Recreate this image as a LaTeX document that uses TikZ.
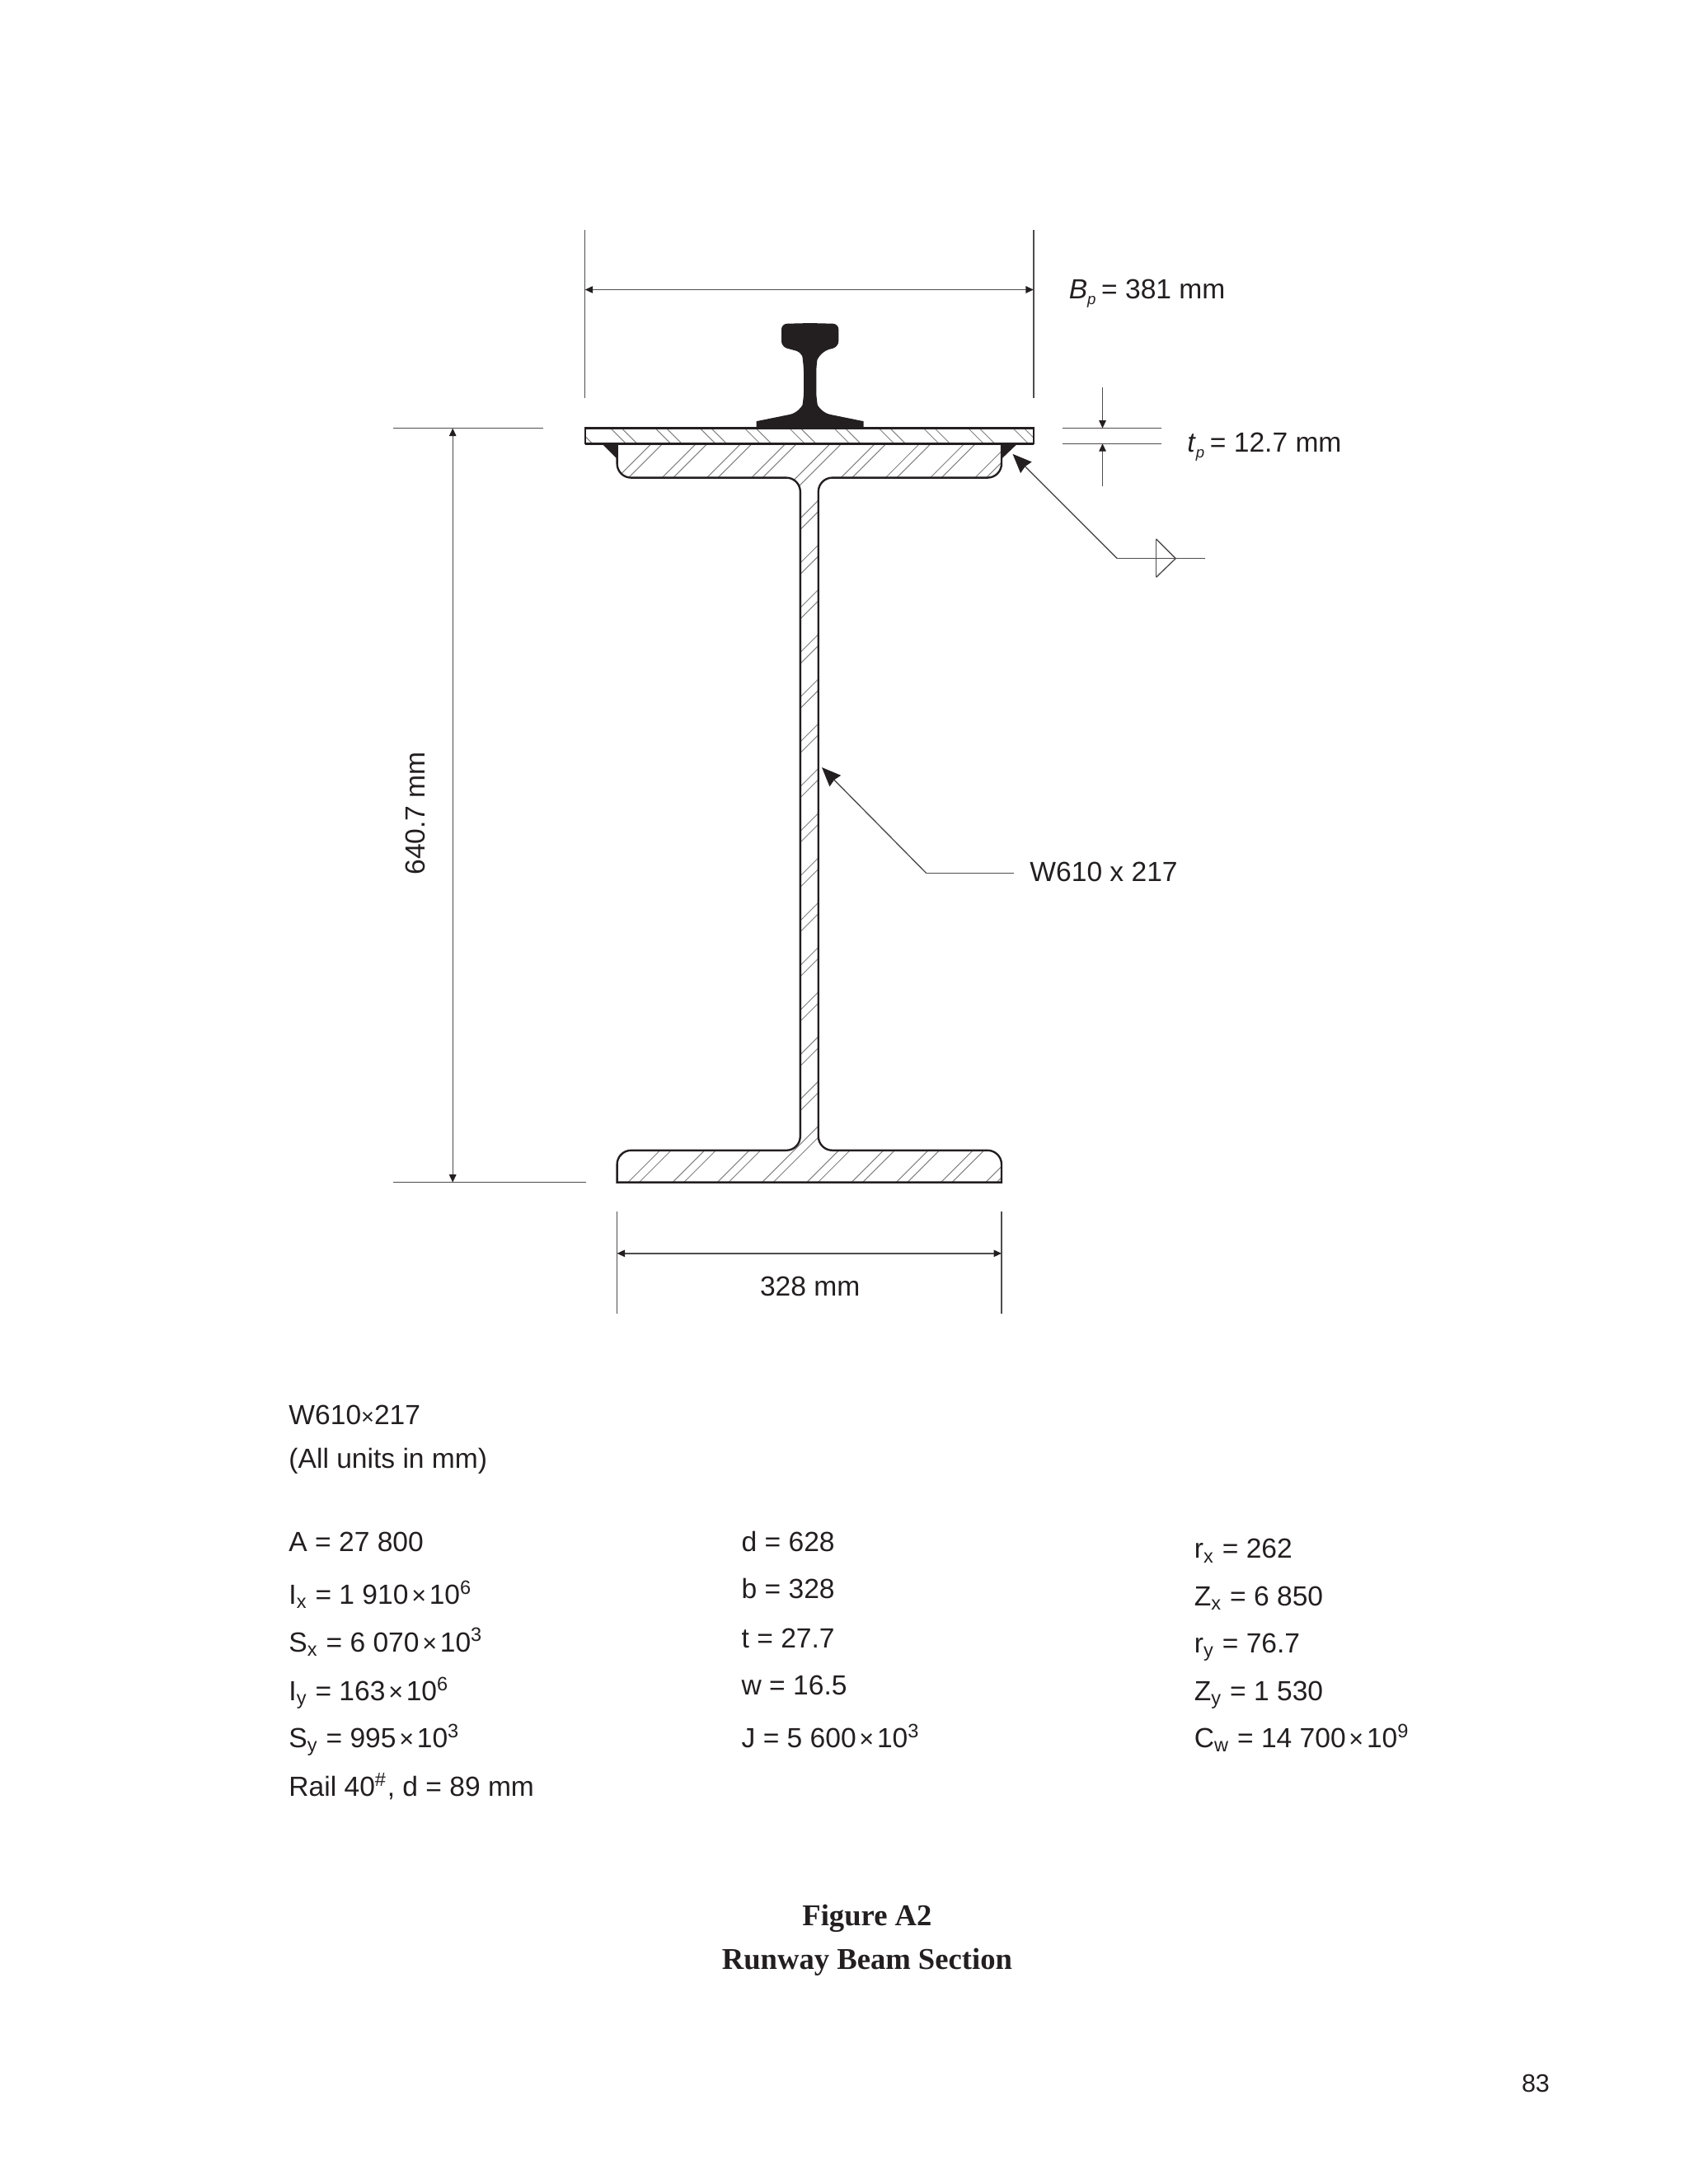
\documentclass[tikz,border=0pt]{standalone}
\usepackage{fontspec}
\setmainfont{Liberation Sans}
\newfontfamily\capfont{Liberation Serif}
\usetikzlibrary{arrows.meta}
\definecolor{ink}{HTML}{231F20}
\definecolor{hatchgray}{HTML}{808080}
\newcommand{\tm}{{\fontsize{8}{8}\selectfont ×}}
\newcommand{\tms}{\hspace{1.1pt}{\fontsize{9}{9}\selectfont ×}\hspace{1.1pt}}
\newcommand{\subp}{\raisebox{-2pt}{\fontsize{5.5}{5.5}\selectfont\itshape p}\hspace{-0.8pt}}
\newcommand{\sectionpath}{(581,318.5) [sharp corners] -- (443,318.5) [rounded corners=5pt] -- (443,343) -- (574.5,343) -- (574.5,826) -- (443,826) [sharp corners] -- (443,849) -- (719,849) [rounded corners=5pt] -- (719,826) -- (587.5,826) -- (587.5,343) -- (719,343) [sharp corners] -- (719,318.5) -- cycle}
\tikzset{
  outline/.style={draw=ink,line width=0.7pt},
  hatch/.style={draw=hatchgray,line width=0.3pt},
  thinline/.style={draw=ink!80,line width=0.4pt},
  dimtip/.tip={Triangle[length=2.8pt,width=2.5pt,color=ink]},
  leadtip/.tip={Stealth[length=6.8pt,width=5.6pt,inset=0.5pt,color=ink]}
}
\begin{document}
\begin{tikzpicture}[x=0.49826pt,y=-0.49826pt]
  \useasboundingbox (0,0) rectangle (1212,1568.2);
  % hatching
  \begin{scope}
    \clip (420,307.5) rectangle (742,318.5);
    \foreach \k [evaluate=\k as \d using 130.8+32.1*\k] in {-1,...,9} {
      \path[hatch] ({\d+300},300) -- ({\d+330},330);
      \path[hatch] ({\d+308},300) -- ({\d+338},330);
    }
  \end{scope}
  \begin{scope}
    \clip \sectionpath;
    \foreach \k [evaluate=\k as \c using 1299.8-32.1*\k] in {-9,...,17} {
      \path[hatch] ({\c-310},310) -- ({\c-860},860);
      \path[hatch] ({\c-302},310) -- ({\c-852},860);
    }
  \end{scope}
  % section
  \draw[outline] (420,307.5) rectangle (742,318.5);
  \draw[outline,line width=1pt] (420,318.5) -- (742,318.5);
  \draw[outline] \sectionpath;
  \fill[ink] (432.5,319) -- (443,319) -- (443,329.5) -- cycle;
  \fill[ink] (719,319) -- (730,319) -- (719,329.5) -- cycle;
  % rail
  \fill[ink,rounded corners=2pt] (581.5,232) -- (561,232.5) -- (561,249) -- (575.5,253) [rounded corners=4pt] -- (577,260) -- (577,289) -- (575,296) [rounded corners=0pt] -- (543,302.5) -- (543,307) -- (620,307) -- (620,302.5) [rounded corners=4pt] -- (588,296) -- (586,289) -- (586,260) -- (587.5,253) [rounded corners=2pt] -- (602,249) -- (602,232.5) -- cycle;
  % dimension and leader points
  \coordinate (bl1) at (420,165);
  \coordinate (bl2) at (420,286);
  \coordinate (br1) at (742,165);
  \coordinate (br2) at (742,286);
  \coordinate (ba) at (420,208);
  \coordinate (bb) at (742,208);
  \coordinate (ht1) at (282,307.5);
  \coordinate (ht2) at (390,307.5);
  \coordinate (hb1) at (282,849);
  \coordinate (hb2) at (421,849);
  \coordinate (ha) at (325,307.5);
  \coordinate (hb) at (325,849);
  \coordinate (wl1) at (443,870);
  \coordinate (wl2) at (443,943);
  \coordinate (wr1) at (719,870);
  \coordinate (wr2) at (719,943);
  \coordinate (wa) at (443,900);
  \coordinate (wb) at (719,900);
  \coordinate (tt1) at (763,307.5);
  \coordinate (tt2) at (834,307.5);
  \coordinate (tb1) at (763,318.5);
  \coordinate (tb2) at (834,318.5);
  \coordinate (ta0) at (791.5,278);
  \coordinate (ta) at (791.5,307.5);
  \coordinate (tc0) at (791.5,349);
  \coordinate (tc) at (791.5,318.5);
  \coordinate (wtip) at (727,326);
  \coordinate (wknee) at (802,401);
  \coordinate (wend) at (865,401);
  \coordinate (wtri1) at (830,387);
  \coordinate (wtri2) at (844,401);
  \coordinate (wtri3) at (830,414.5);
  \coordinate (btip) at (590,551);
  \coordinate (bknee) at (665,627);
  \coordinate (bend) at (728,627);
  \begin{scope}[every edge/.style={thinline,draw}]
    \path (bl1) edge (bl2);
    \path (br1) edge (br2);
    \path (ba) edge[dimtip-dimtip] (bb);
    \path (ht1) edge (ht2);
    \path (hb1) edge (hb2);
    \path (ha) edge[dimtip-dimtip] (hb);
    \path (wl1) edge (wl2);
    \path (wr1) edge (wr2);
    \path (wa) edge[dimtip-dimtip] (wb);
    \path (tt1) edge (tt2);
    \path (tb1) edge (tb2);
    \path (ta0) edge[-dimtip] (ta);
    \path (tc0) edge[-dimtip] (tc);
    \path (wknee) edge (wend);
    \path (wknee) edge[-leadtip] (wtip);
    \path (bknee) edge (bend);
    \path (bknee) edge[-leadtip] (btip);
    \path (wtri1) edge (wtri2);
    \path (wtri2) edge (wtri3);
    \path (wtri3) edge (wtri1);
  \end{scope}
  % labels
  \begin{scope}[every node/.style={inner sep=0pt,text=ink,font=\fontsize{9.9}{12}\selectfont}]
    \node[anchor=base west] (bp) at (767,214.5) {\textit{B}\subp{} = 381 mm};
    \node[anchor=base west] (tp) at (852,324.5) {\textit{t}\subp{} = 12.7 mm};
    \node[rotate=90] (depth) at (298,584) {640.7 mm};
    \node (flange) at (581.5,923.5) {328 mm};
    \node[anchor=base west] (shape) at (739,633) {W610 x 217};
    \node[anchor=base west] (title) at (207,1023) {W610\tm217};
    \node[anchor=base west] (units) at (207,1054) {(All units in mm)};
    \node[anchor=base west] (area) at (207,1114) {A = 27 800};
    \node[anchor=base west] (ix) at (207,1152) {I\textsubscript{x} = 1 910\tms10\textsuperscript{6}};
    \node[anchor=base west] (sx) at (207,1186) {S\textsubscript{x} = 6 070\tms10\textsuperscript{3}};
    \node[anchor=base west] (iy) at (207,1221) {I\textsubscript{y} = 163\tms10\textsuperscript{6}};
    \node[anchor=base west] (sy) at (207,1255) {S\textsubscript{y} = 995\tms10\textsuperscript{3}};
    \node[anchor=base west] (rail) at (207,1290) {Rail 40\textsuperscript{\#}, d = 89 mm};
    \node[anchor=base west] (dd) at (532,1114) {d = 628};
    \node[anchor=base west] (bw) at (532,1148) {b = 328};
    \node[anchor=base west] (tf) at (532,1183) {t = 27.7};
    \node[anchor=base west] (tw) at (532,1217) {w = 16.5};
    \node[anchor=base west] (jj) at (532,1255) {J = 5 600\tms10\textsuperscript{3}};
    \node[anchor=base west] (rx) at (857,1119) {r\textsubscript{x} = 262};
    \node[anchor=base west] (zx) at (857,1153) {Z\textsubscript{x} = 6 850};
    \node[anchor=base west] (ry) at (857,1187) {r\textsubscript{y} = 76.7};
    \node[anchor=base west] (zy) at (857,1221) {Z\textsubscript{y} = 1 530};
    \node[anchor=base west] (cw) at (857,1255) {C\textsubscript{w} = 14 700\tms10\textsuperscript{9}};
    \node[anchor=base west,font=\fontsize{9}{11}\selectfont] (page) at (1092,1502) {83};
    \node[anchor=base,font=\capfont\bfseries\fontsize{10.8}{13}\selectfont] (fig) at (622.5,1382.5) {Figure A2};
    \node[anchor=base,font=\capfont\bfseries\fontsize{10.8}{13}\selectfont] (cap) at (622.5,1414) {Runway Beam Section};
  \end{scope}
\end{tikzpicture}
\end{document}
